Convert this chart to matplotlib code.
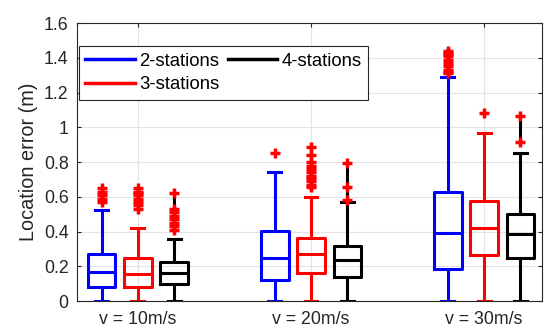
import matplotlib
matplotlib.use("Agg")
import matplotlib.pyplot as plt
from matplotlib.lines import Line2D

plt.rcParams['font.family'] = ['Liberation Sans', 'DejaVu Sans']

# ---- data ----
speeds = ["v = 10m/s", "v = 20m/s", "v = 30m/s"]
series = ["2-stations", "3-stations", "4-stations"]
colors = ["#0000ff", "#ff0000", "#000000"]

# per series: one value per speed group
q1 = [[0.082, 0.121, 0.182], [0.079, 0.163, 0.263], [0.096, 0.140, 0.249]]
med = [[0.165, 0.249, 0.390], [0.154, 0.270, 0.418], [0.163, 0.236, 0.384]]
q3 = [[0.268, 0.403, 0.629], [0.246, 0.361, 0.576], [0.226, 0.317, 0.501]]
whislo = [[0.0, 0.0, 0.0], [0.0, 0.0, 0.0], [0.0, 0.0, 0.0]]
whishi = [[0.524, 0.744, 1.287], [0.422, 0.600, 0.969], [0.357, 0.572, 0.854]]
outliers = [
    [[0.57, 0.59, 0.61, 0.63, 0.65],
     [0.853],
     [1.31, 1.32, 1.33, 1.35, 1.37, 1.39, 1.41, 1.42, 1.43, 1.44]],
    [[0.53, 0.55, 0.57, 0.59, 0.61, 0.62, 0.63, 0.65],
     [0.655, 0.67, 0.69, 0.71, 0.72, 0.74, 0.76, 0.78, 0.80, 0.84, 0.888],
     [1.084]],
    [[0.41, 0.43, 0.45, 0.47, 0.49, 0.51, 0.53, 0.623],
     [0.581, 0.654, 0.792],
     [0.913, 1.067]],
]

offsets = [-0.21, 0.0, 0.21]

fig = plt.figure(figsize=(5.44, 3.29), dpi=100)
ax = fig.add_axes([0.1415, 0.085, 0.855, 0.845])

for s in range(3):
    stats = []
    for g in range(3):
        stats.append(dict(med=med[s][g], q1=q1[s][g], q3=q3[s][g],
                          whislo=whislo[s][g], whishi=whishi[s][g],
                          fliers=sorted(outliers[s][g])))
    c = colors[s]
    lw = 2.2
    ax.bxp(stats, positions=[g + 1 + offsets[s] for g in range(3)],
           widths=0.16, capwidths=0.075, showfliers=True,
           boxprops=dict(color=c, linewidth=lw),
           medianprops=dict(color=c, linewidth=lw),
           whiskerprops=dict(color=c, linewidth=lw, solid_capstyle='butt'),
           capprops=dict(color=c, linewidth=lw),
           flierprops=dict(color=c, linestyle='-', linewidth=lw, marker='+',
                           markeredgecolor='red', markersize=7.5,
                           markeredgewidth=2.5),
           manage_ticks=False)

ax.set_xlim(0.648, 3.335)
ax.set_ylim(0, 1.6)
ax.set_xticks([1, 2, 3])
ax.set_xticklabels(speeds)
ax.set_yticks([0, 0.2, 0.4, 0.6, 0.8, 1.0, 1.2, 1.4, 1.6])
ax.set_yticklabels(["0", "0.2", "0.4", "0.6", "0.8", "1", "1.2", "1.4", "1.6"])
ax.set_ylabel("Location error (m)", fontsize=14.3, color="#262626", labelpad=4)
ax.grid(True, color="#e3e3e3", linewidth=0.8)
ax.set_axisbelow(True)
ax.tick_params(direction='in', length=3, top=True, right=True,
               labelsize=12.8, colors="#262626")
ax.tick_params(axis='x', pad=7)
ax.tick_params(axis='y', pad=6)
for sp in ax.spines.values():
    sp.set_color("#262626")
    sp.set_linewidth(0.8)

handles = [Line2D([], [], color=c, linewidth=2.5) for c in colors]
leg = ax.legend(handles, series, ncol=2, loc='upper left',
                bbox_to_anchor=(0.004, 0.917), borderaxespad=0,
                fontsize=13.3, handlelength=2.7, handletextpad=0.22,
                columnspacing=0.43, fancybox=False, framealpha=1,
                edgecolor="#262626", borderpad=0.36, labelspacing=0.35)
leg.get_frame().set_linewidth(0.8)

fig.savefig("out.png", dpi=100)
